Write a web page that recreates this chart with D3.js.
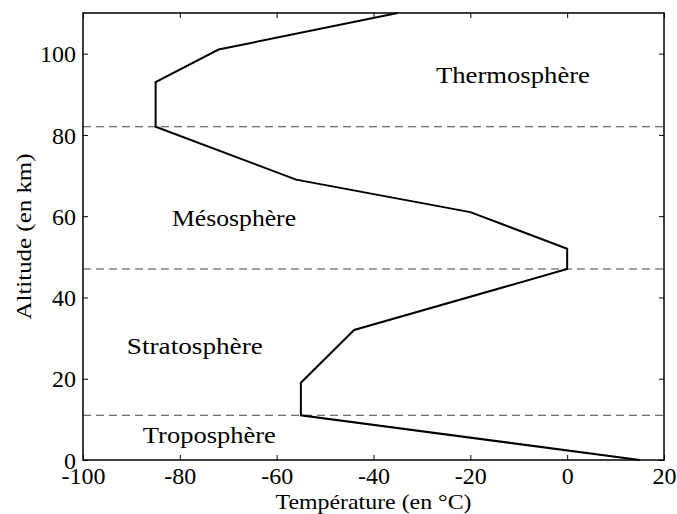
<!DOCTYPE html>
<html><head><meta charset="utf-8">
<script src="https://cdn.jsdelivr.net/npm/d3@7"></script>
<style>html,body{margin:0;padding:0;background:#fff}svg{display:block}</style>
</head><body>
<script>
const temperatures = [15, -55, -55, -44, 0, 0, -20, -56, -85, -85, -72, -35];
const altitudes    = [0, 11, 19, 32, 47, 52, 61, 69, 82, 93, 101, 110];
const boundaries   = [11, 47, 82];
const layerNames   = ["Troposphère", "Stratosphère", "Mésosphère", "Thermosphère"];
const layerX       = [-73.9, -76.9, -68.8, -11.2];
const layerY       = [4.1, 26, 57.7, 92.7];
const xTicks = [-100, -80, -60, -40, -20, 0, 20];
const yTicks = [0, 20, 40, 60, 80, 100];
const xLabel = "Température (en °C)";
const yLabel = "Altitude (en km)";

const W = 677, H = 514;
const m = {left: 83, right: 677 - 664, top: 13, bottom: 514 - 460};
const font = "'Liberation Serif', 'Times New Roman', serif";

const svg = d3.select("body").append("svg").attr("width", W).attr("height", H);
const x = d3.scaleLinear().domain([-100, 20]).range([m.left, W - m.right]);
const y = d3.scaleLinear().domain([0, 110]).range([H - m.bottom, m.top]);

// boundaries
svg.append("g").selectAll("line").data(boundaries).join("line")
  .attr("x1", x(-100)).attr("x2", x(20))
  .attr("y1", d => y(d)).attr("y2", d => y(d))
  .attr("stroke", "#444").attr("stroke-width", 1.1).attr("stroke-dasharray", "8,5");

// profile
const line = d3.line().x(d => x(d[0])).y(d => y(d[1]));
svg.append("path").datum(temperatures.map((t, i) => [t, altitudes[i]]))
  .attr("d", line).attr("fill", "none").attr("stroke", "#000")
  .attr("stroke-width", 2).attr("stroke-linejoin", "miter");

// layer labels
const widths = [133, 136, 124, 154];
svg.append("g").selectAll("text").data(layerNames).join("text")
  .attr("x", (d, i) => x(layerX[i])).attr("y", (d, i) => y(layerY[i]))
  .attr("text-anchor", "middle").attr("font-family", font).attr("font-size", 24)
  .attr("textLength", (d, i) => widths[i]).attr("lengthAdjust", "spacingAndGlyphs")
  .text(d => d);

// axes (inward ticks)
const tick = 5;
const fmt = d => String(d);
const axB = svg.append("g").attr("transform", `translate(0,${y(0)})`)
  .call(d3.axisBottom(x).tickValues(xTicks).tickSize(-tick).tickPadding(10).tickFormat(fmt));
const axT = svg.append("g").attr("transform", `translate(0,${y(110)})`)
  .call(d3.axisTop(x).tickValues(xTicks).tickSize(-tick).tickFormat(""));
const axL = svg.append("g").attr("transform", `translate(${x(-100)},0)`)
  .call(d3.axisLeft(y).tickValues(yTicks).tickSize(-tick).tickPadding(7).tickFormat(fmt));
const axR = svg.append("g").attr("transform", `translate(${x(20)},0)`)
  .call(d3.axisRight(y).tickValues(yTicks).tickSize(-tick).tickFormat(""));
[axB, axT, axL, axR].forEach(a => {
  a.select(".domain").remove();
  a.selectAll(".tick line").attr("stroke", "#000").attr("stroke-width", 1);
  a.selectAll("text").attr("font-family", font).attr("font-size", 24).attr("fill", "#000");
});
axB.selectAll("text").attr("dy", "0.6em");
axL.selectAll("text").attr("dy", "0.34em");

// frame
svg.append("rect").attr("x", x(-100)).attr("y", y(110))
  .attr("width", x(20) - x(-100)).attr("height", y(0) - y(110))
  .attr("fill", "none").attr("stroke", "#000").attr("stroke-width", 1.5);

// axis labels
svg.append("text").attr("x", (x(-100) + x(20)) / 2).attr("y", 509)
  .attr("text-anchor", "middle").attr("font-family", font).attr("font-size", 21)
  .attr("textLength", 196).attr("lengthAdjust", "spacingAndGlyphs").text(xLabel);
svg.append("text").attr("transform", `translate(31,${(y(0) + y(110)) / 2}) rotate(-90)`)
  .attr("text-anchor", "middle").attr("font-family", font).attr("font-size", 21)
  .attr("textLength", 166).attr("lengthAdjust", "spacingAndGlyphs").text(yLabel);
</script>
</body></html>
